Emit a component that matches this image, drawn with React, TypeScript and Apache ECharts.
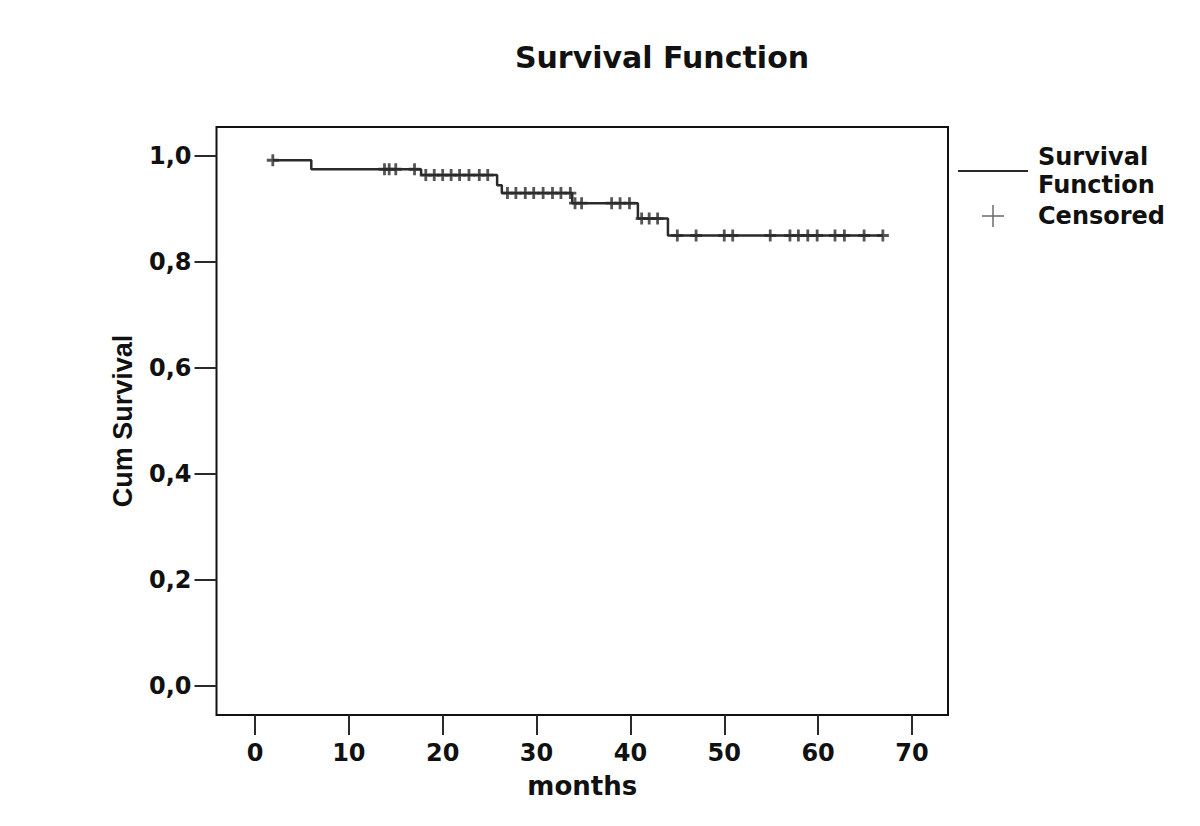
import React, { useEffect, useRef } from "react";
import * as echarts from "echarts";

// Kaplan-Meier step curve: time at which each level starts, and the level
const survTimes = [1.9, 6.0, 17.7, 25.8, 26.3, 33.8, 40.8, 44.0];
const survLevels = [0.992, 0.975, 0.964, 0.945, 0.93, 0.911, 0.882, 0.85];
const lastTime = 66.9;

// Censored observations [months, cum survival]
const censored: [number, number][] = [
  [1.9, 0.992],
  [13.8, 0.975], [14.3, 0.975], [15.0, 0.975], [17.0, 0.975],
  [18.2, 0.964], [19.1, 0.964], [20.0, 0.964], [20.9, 0.964], [21.8, 0.964],
  [22.8, 0.964], [23.9, 0.964], [24.8, 0.964],
  [26.9, 0.93], [27.8, 0.93], [28.8, 0.93], [29.7, 0.93], [30.7, 0.93],
  [31.7, 0.93], [32.6, 0.93], [33.6, 0.93],
  [34.1, 0.911], [34.8, 0.911], [38.0, 0.911], [38.9, 0.911], [39.9, 0.911],
  [41.2, 0.882], [42.0, 0.882], [42.9, 0.882],
  [45.0, 0.85], [47.0, 0.85], [50.0, 0.85], [50.9, 0.85], [54.9, 0.85],
  [57.0, 0.85], [57.9, 0.85], [58.9, 0.85], [59.9, 0.85], [61.8, 0.85],
  [62.8, 0.85], [64.9, 0.85], [66.9, 0.85],
];

const xTicks = [0, 10, 20, 30, 40, 50, 60, 70];
const yTicks = [0, 0.2, 0.4, 0.6, 0.8, 1.0];
const yTickLabels = ["0,0", "0,2", "0,4", "0,6", "0,8", "1,0"];
// axis extents of the framed plot area
const xRange = [-4.1, 73.84];
const yRange = [-0.0547, 1.0547];

const titleText = "Survival Function";
const xName = "months";
const yName = "Cum Survival";
const seriesNames = ["Survival Function", "Censored"];

const CROSS = "path://M-1.4,-6H1.4V-1.4H6V1.4H1.4V6H-1.4V1.4H-6V-1.4H-1.4Z";
const CROSS_THIN = "path://M-0.8,-12H0.8V-0.8H12V0.8H0.8V12H-0.8V0.8H-12V-0.8H-0.8Z";
const FONT = "DejaVu Sans, Liberation Sans, Arial, sans-serif";
const INK = "#2a2a2a";

function stepPoints(): [number, number][] {
  const pts: [number, number][] = [];
  for (let i = 0; i < survTimes.length; i++) {
    const end = i + 1 < survTimes.length ? survTimes[i + 1] : lastTime;
    pts.push([survTimes[i], survLevels[i]]);
    pts.push([end, survLevels[i]]);
  }
  return pts;
}

export default function App() {
  const ref = useRef<HTMLDivElement>(null);
  useEffect(() => {
    if (!ref.current) return;
    const chart = echarts.init(ref.current, null, { renderer: "svg" });
    chart.setOption({
      animation: false,
      backgroundColor: "#ffffff",
      title: {
        text: titleText,
        left: 657,
        top: 37,
        textAlign: "center",
        textStyle: { fontFamily: FONT, fontWeight: "bold", fontSize: 30, color: "#111" },
      },
      grid: {
        left: 216.5, top: 127, width: 731.5, height: 588, show: true,
        borderColor: "#111", borderWidth: 2, backgroundColor: "transparent",
      },
      xAxis: {
        type: "value", min: xRange[0], max: xRange[1],
        position: "bottom",
        axisLine: { show: false, onZero: false },
        axisTick: {
          show: true, inside: false, length: 20, customValues: xTicks,
          lineStyle: { color: INK, width: 2 },
        },
        splitLine: { show: false },
        axisLabel: {
          customValues: xTicks, margin: 26, fontFamily: FONT, fontWeight: "bold",
          fontSize: 24, color: "#111",
        },
        name: xName, nameLocation: "middle", nameGap: 58,
        nameTextStyle: { fontFamily: FONT, fontWeight: "bold", fontSize: 26, color: "#111" },
      },
      yAxis: {
        type: "value", min: yRange[0], max: yRange[1],
        position: "left",
        axisLine: { show: false, onZero: false },
        axisTick: {
          show: true, inside: false, length: 22, customValues: yTicks,
          lineStyle: { color: INK, width: 2 },
        },
        splitLine: { show: false },
        axisLabel: {
          customValues: yTicks, margin: 25, fontFamily: FONT, fontWeight: "bold",
          fontSize: 24, color: "#111",
          formatter: (v: number) => yTickLabels[Math.round(v * 5)] ?? "",
        },
        name: yName, nameLocation: "middle", nameGap: 80, nameRotate: 90,
        nameTextStyle: {
          fontFamily: "Liberation Sans Narrow, Liberation Sans, Arial, sans-serif",
          fontWeight: "bold", fontSize: 27, color: "#111",
        },
      },
      legend: [
        {
          data: [{ name: seriesNames[0], icon: "rect" }],
          left: 953, top: 138, orient: "vertical",
          itemWidth: 70, itemHeight: 2,
          formatter: () => "Survival\nFunction",
          textStyle: {
            fontFamily: FONT, fontWeight: "bold", fontSize: 24, color: "#111",
            lineHeight: 28, padding: [0, 0, 0, 5],
          },
          itemStyle: { color: INK },
        },
        {
          data: [{ name: seriesNames[1], icon: CROSS_THIN }],
          left: 977, top: 199, orient: "vertical",
          itemWidth: 22, itemHeight: 24,
          textStyle: {
            fontFamily: FONT, fontWeight: "bold", fontSize: 24, color: "#111",
            padding: [0, 0, 0, 29],
          },
          itemStyle: { color: "#444" },
        },
      ],
      series: [
        {
          name: seriesNames[0], type: "line",
          data: stepPoints(), symbol: "none", showSymbol: false,
          lineStyle: { color: INK, width: 2.5 }, itemStyle: { color: INK },
        },
        {
          name: seriesNames[1], type: "scatter",
          data: censored, symbol: CROSS, symbolSize: 12,
          itemStyle: { color: INK },
        },
      ],
    });
    return () => chart.dispose();
  }, []);
  return (
    <div
      ref={ref}
      style={{ position: "fixed", left: 0, top: 0, width: 1200, height: 826, background: "#fff" }}
    />
  );
}
